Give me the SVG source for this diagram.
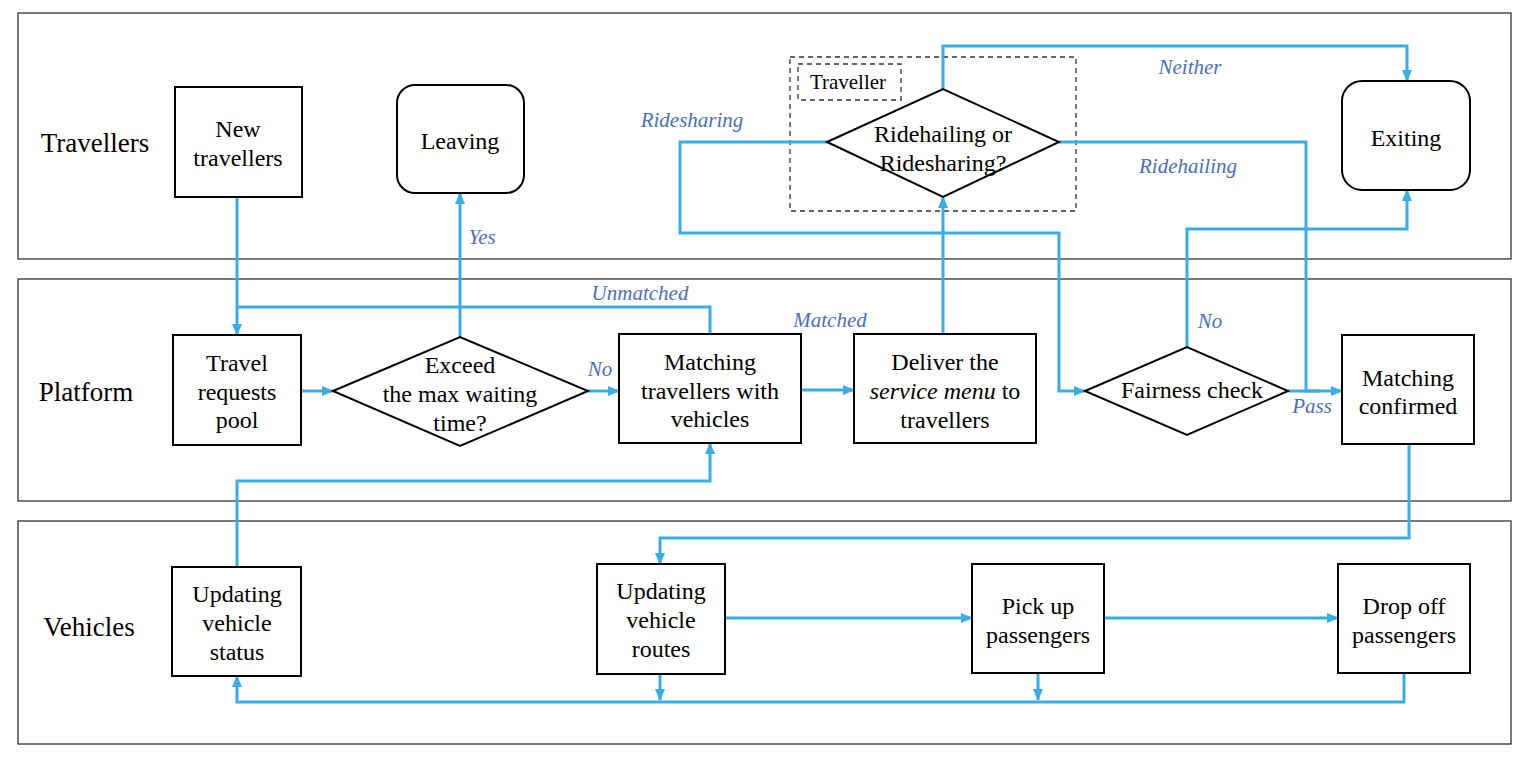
<svg xmlns="http://www.w3.org/2000/svg" width="1527" height="760" viewBox="0 0 1527 760">
<style>
.lane{fill:none;stroke:#333;stroke-width:1.3}
.box{fill:#fff;stroke:#000;stroke-width:2}
.dash{fill:none;stroke:#333;stroke-width:1.3;stroke-dasharray:5,4}
.t{font-family:"Liberation Serif","Times New Roman",serif;font-size:24px;fill:#000;text-anchor:middle}
.lt{font-family:"Liberation Serif","Times New Roman",serif;font-size:27px;fill:#000;text-anchor:middle}
.lab{font-family:"Liberation Serif","Times New Roman",serif;font-size:21px;font-style:italic;fill:#4A70B8;text-anchor:middle}
.c{fill:none;stroke:#3AACE6;stroke-width:3}
.ca{fill:none;stroke:#3AACE6;stroke-width:3;marker-end:url(#ah)}
</style>
<defs>
<marker id="ah" markerUnits="userSpaceOnUse" markerWidth="12" markerHeight="10" refX="11" refY="5" orient="auto">
<path d="M0,0 L12,5 L0,10 Z" fill="#3AACE6"/>
</marker>
</defs>
<rect width="1527" height="760" fill="#fff"/>
<g id="lanes">
<rect class="lane" x="18" y="13" width="1493" height="246"/>
<rect class="lane" x="18" y="279" width="1493" height="222"/>
<rect class="lane" x="18" y="521" width="1493" height="223"/>
<text class="lt" x="95" y="152">Travellers</text>
<text class="lt" x="86" y="401">Platform</text>
<text class="lt" x="89" y="636">Vehicles</text>
</g>
<g id="traveller-group">
<rect class="dash" x="790" y="57" width="286" height="154"/>
<rect class="dash" x="798" y="64" width="103" height="36"/>
<text class="t" x="848" y="89" style="font-size:21px">Traveller</text>
</g>
<g id="connectors">
<path class="ca" d="M237,197 V335"/>
<path class="c" d="M710,334 V307 H237"/>
<path class="ca" d="M460,337 V193"/>
<path class="ca" d="M301,391 H333"/>
<path class="ca" d="M588,391 H619"/>
<path class="ca" d="M801,390 H854"/>
<path class="ca" d="M943,334 V197"/>
<path class="ca" d="M943,89 V46 H1407 V81"/>
<path class="ca" d="M827,142 H680 V233 H1059 V391 H1085"/>
<path class="c" d="M1059,142 H1306 V391 H1320"/>
<path class="ca" d="M1187,347 V229 H1407 V190"/>
<path class="ca" d="M1288,391 H1342"/>
<path class="ca" d="M1409,444 V538 H660 V564"/>
<path class="ca" d="M725,618 H972"/>
<path class="ca" d="M1104,618 H1338"/>
<path class="ca" d="M660,674 V700"/>
<path class="ca" d="M1038,673 V700"/>
<path class="ca" d="M1404,673 V702 H237 V676"/>
<path class="ca" d="M237,567 V481 H710 V443"/>
</g>
<g id="labels">
<text class="lab" x="482" y="244">Yes</text>
<text class="lab" x="640" y="300">Unmatched</text>
<text class="lab" x="600" y="376">No</text>
<text class="lab" x="830" y="327">Matched</text>
<text class="lab" x="692" y="127">Ridesharing</text>
<text class="lab" x="1190" y="74">Neither</text>
<text class="lab" x="1188" y="173">Ridehailing</text>
<text class="lab" x="1210" y="328">No</text>
<text class="lab" x="1312" y="413">Pass</text>
</g>
<g id="new-travellers">
<rect class="box" x="175" y="87" width="127" height="110"/>
<text class="t" x="238" y="137">New</text>
<text class="t" x="238" y="166">travellers</text>
</g>
<g id="leaving">
<rect class="box" x="397" y="85" width="127" height="108" rx="18"/>
<text class="t" x="460" y="149">Leaving</text>
</g>
<g id="ridehailing-decision">
<polygon class="box" points="827,142 943,89 1059,142 943,197"/>
<text class="t" x="943" y="142">Ridehailing or</text>
<text class="t" x="943" y="171">Ridesharing?</text>
</g>
<g id="exiting">
<rect class="box" x="1342" y="81" width="128" height="109" rx="20"/>
<text class="t" x="1406" y="146">Exiting</text>
</g>
<g id="travel-requests-pool">
<rect class="box" x="173" y="335" width="128" height="110"/>
<text class="t" x="237" y="371">Travel</text>
<text class="t" x="237" y="400">requests</text>
<text class="t" x="237" y="428">pool</text>
</g>
<g id="exceed-decision">
<polygon class="box" points="333,391 460,337 588,391 460,446"/>
<text class="t" x="460" y="373">Exceed</text>
<text class="t" x="460" y="402">the max waiting</text>
<text class="t" x="460" y="431">time?</text>
</g>
<g id="matching">
<rect class="box" x="619" y="334" width="182" height="109"/>
<text class="t" x="710" y="370">Matching</text>
<text class="t" x="710" y="399">travellers with</text>
<text class="t" x="710" y="427">vehicles</text>
</g>
<g id="deliver">
<rect class="box" x="854" y="334" width="182" height="109"/>
<text class="t" x="945" y="370">Deliver the</text>
<text class="t" x="945" y="399"><tspan font-style="italic">service menu</tspan> to</text>
<text class="t" x="945" y="428">travellers</text>
</g>
<g id="fairness-check">
<polygon class="box" points="1085,391 1187,347 1288,391 1187,435"/>
<text class="t" x="1192" y="398">Fairness check</text>
</g>
<g id="matching-confirmed">
<rect class="box" x="1342" y="335" width="132" height="109"/>
<text class="t" x="1408" y="386">Matching</text>
<text class="t" x="1408" y="414">confirmed</text>
</g>
<g id="updating-status">
<rect class="box" x="172" y="567" width="129" height="109"/>
<text class="t" x="237" y="602">Updating</text>
<text class="t" x="237" y="631">vehicle</text>
<text class="t" x="237" y="660">status</text>
</g>
<g id="updating-routes">
<rect class="box" x="597" y="564" width="128" height="110"/>
<text class="t" x="661" y="599">Updating</text>
<text class="t" x="661" y="628">vehicle</text>
<text class="t" x="661" y="657">routes</text>
</g>
<g id="pick-up">
<rect class="box" x="972" y="564" width="132" height="109"/>
<text class="t" x="1038" y="614">Pick up</text>
<text class="t" x="1038" y="643">passengers</text>
</g>
<g id="drop-off">
<rect class="box" x="1338" y="564" width="132" height="109"/>
<text class="t" x="1404" y="614">Drop off</text>
<text class="t" x="1404" y="643">passengers</text>
</g>
</svg>
